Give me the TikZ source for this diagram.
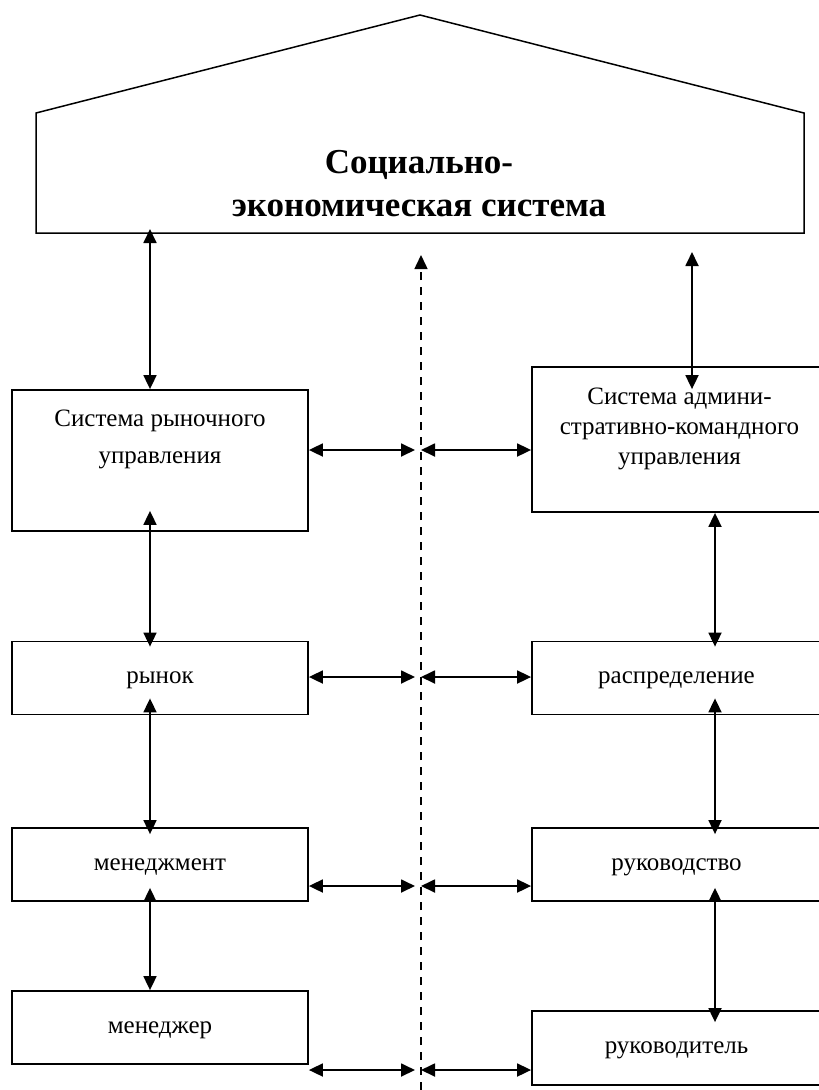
\documentclass[tikz,border=0pt]{standalone}
\usepackage{fontspec}
\setmainfont{Liberation Serif}
\usetikzlibrary{positioning, arrows.meta}

\begin{document}
\begin{tikzpicture}[
  x=1pt, y=1pt,
  >={Triangle[length=14pt, width=13pt]},
  font=\fontsize{25}{30}\selectfont,
  frame/.style={rectangle, draw, line width=1.8pt, inner sep=0pt},
  lunit/.style={frame, minimum width=296pt, minimum height=73pt,
    text height=17pt, text depth=6pt},
  runit/.style={frame, minimum width=289pt, minimum height=73pt,
    text height=17pt, text depth=6pt},
  lbl/.style={align=center, inner sep=0pt},
  title/.style={align=center, inner sep=0pt,
    font=\fontsize{35}{43}\selectfont\bfseries},
  link/.style={<->, line width=1.8pt},
  divider/.style={->, line width=1.5pt, dash pattern=on 8pt off 7pt}
]
\useasboundingbox (0,0) rectangle (819,-1090);
\clip (0,0) rectangle (819,-1090);

% top: the whole system
\node[rectangle, inner sep=0pt, outer sep=0pt,
      minimum width=768pt, minimum height=120pt] (soc) at (420,-173) {};
\coordinate (apex) at (420,-15);
\draw[line width=1.5pt] (soc.south west) -- (soc.north west) -- (apex)
  -- (soc.north east) -- (soc.south east) -- cycle;
\node[title] (soctitle) at (419,-184)
  {Социально-\\экономическая система};

% left column
\node[lunit, minimum height=141pt] (mkt) at (160,-460.5) {};
\node[lbl, font=\fontsize{25}{37}\selectfont, below=21pt of mkt.north]
  (mkttext) {Система рыночного\\управления};
\node[lunit] (rynok) at (160,-678) {рынок};
\node[lunit] (mgmt) at (160,-864.5) {менеджмент};
\node[lunit] (mgr) at (160,-1027.5) {менеджер};

% right column
\node[runit, minimum height=145pt] (adm) at (676.5,-439.5) {};
\node[lbl, below=22pt of adm.north, xshift=3pt]
  (admtext) {Система админи-\\стративно-командного\\управления};
\node[runit] (distr) at (676.5,-678) {распределение};
\node[runit] (lead) at (676.5,-864.5) {руководство};
\node[runit, minimum height=74pt] (leader) at (676.5,-1048) {руководитель};

% divider
\coordinate (divtop) at (421,-255);
\coordinate (divbot) at (421,-1090);
\draw[divider] (divbot) -- (divtop);

% vertical links
\coordinate (cl) at (150,0);
\coordinate (ct) at (692,0);
\coordinate (cr) at (715,0);
\draw[link, shorten <=-4pt] (cl |- soc.south) -- (cl |- mkt.north);
\draw[link, shorten <=19pt, shorten >=-23pt] (ct |- soc.south) -- (ct |- adm.north);
\draw[link, shorten <=-21pt, shorten >=-6pt] (cl |- mkt.south) -- (cl |- rynok.north);
\draw[link, shorten >=-6pt] (cr |- adm.south) -- (cr |- distr.north);
\draw[link, shorten <=-17pt, shorten >=-7pt] (cl |- rynok.south) -- (cl |- mgmt.north);
\draw[link, shorten <=-17pt, shorten >=-7pt] (cr |- distr.south) -- (cr |- lead.north);
\draw[link, shorten <=-14pt] (cl |- mgmt.south) -- (cl |- mgr.north);
\draw[link, shorten <=-14pt, shorten >=-12pt] (cr |- lead.south) -- (cr |- leader.north);

% horizontal links to the divider
\coordinate (dl) at (415,0);
\coordinate (dr) at (421,0);
\foreach \l/\r/\y in {mkt/adm/450, rynok/distr/677, mgmt/lead/886, mgr/leader/1070}{
  \coordinate (row) at (0,-\y);
  \draw[link] (\l.east |- row) -- (dl |- row);
  \draw[link] (dr |- row) -- (\r.west |- row);
}
\end{tikzpicture}
\end{document}
